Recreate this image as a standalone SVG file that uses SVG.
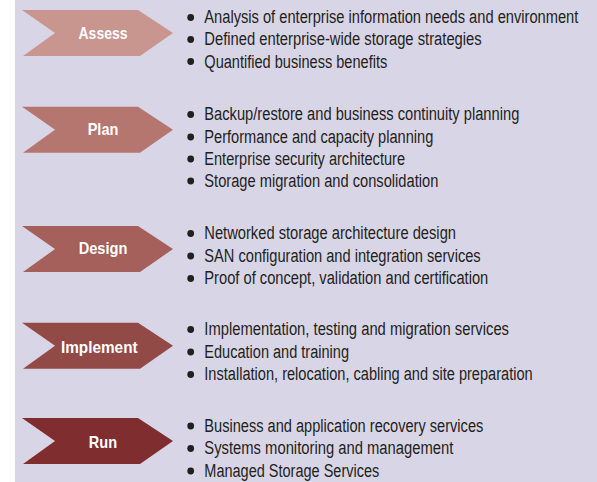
<svg xmlns="http://www.w3.org/2000/svg" width="597" height="482" viewBox="0 0 597 482">
<style>
.bg{fill:#d8d5e7}
.lbl{font-family:"Liberation Sans",Arial,sans-serif;font-weight:bold;font-size:17px;fill:#ffffff;text-anchor:middle}
.it{font-family:"Liberation Sans",Arial,sans-serif;font-size:18px;fill:#231f20}
.dot{fill:#231f20}
</style>
<defs>
<polygon id="chev" points="22,0 138,0 173,23 140,46 23,46 55,23"/>
</defs>
<rect class="bg" x="15" y="0" width="582" height="482"/>
<g id="assess">
<use href="#chev" y="10" fill="#c9968f"/>
<text class="lbl" x="103" y="39" textLength="49" lengthAdjust="spacingAndGlyphs">Assess</text>
<circle class="dot" cx="190.7" cy="17.5" r="3.4"/>
<circle class="dot" cx="190.7" cy="39.5" r="3.4"/>
<circle class="dot" cx="190.7" cy="61.5" r="3.4"/>
<text class="it" x="204.3" y="23.3" textLength="374" lengthAdjust="spacingAndGlyphs">Analysis of enterprise information needs and environment</text>
<text class="it" x="204.3" y="45.3" textLength="277.4" lengthAdjust="spacingAndGlyphs">Defined enterprise-wide storage strategies</text>
<text class="it" x="204.3" y="67.5" textLength="183" lengthAdjust="spacingAndGlyphs">Quantified business benefits</text>
</g>
<g id="plan">
<use href="#chev" y="106.7" fill="#b67670"/>
<text class="lbl" x="103" y="135" textLength="30.6" lengthAdjust="spacingAndGlyphs">Plan</text>
<circle class="dot" cx="190.7" cy="114.5" r="3.4"/>
<circle class="dot" cx="190.7" cy="137" r="3.4"/>
<circle class="dot" cx="190.7" cy="159" r="3.4"/>
<circle class="dot" cx="190.7" cy="181" r="3.4"/>
<text class="it" x="204.3" y="120.3" textLength="315" lengthAdjust="spacingAndGlyphs">Backup/restore and business continuity planning</text>
<text class="it" x="204.3" y="142.8" textLength="229" lengthAdjust="spacingAndGlyphs">Performance and capacity planning</text>
<text class="it" x="204.3" y="164.5" textLength="200.7" lengthAdjust="spacingAndGlyphs">Enterprise security architecture</text>
<text class="it" x="204.3" y="186.5" textLength="234" lengthAdjust="spacingAndGlyphs">Storage migration and consolidation</text>
</g>
<g id="design">
<use href="#chev" y="226" fill="#a5605b"/>
<text class="lbl" x="103" y="254" textLength="48.7" lengthAdjust="spacingAndGlyphs">Design</text>
<circle class="dot" cx="190.7" cy="233.5" r="3.4"/>
<circle class="dot" cx="190.7" cy="256" r="3.4"/>
<circle class="dot" cx="190.7" cy="278.5" r="3.4"/>
<text class="it" x="204.3" y="239.3" textLength="251.7" lengthAdjust="spacingAndGlyphs">Networked storage architecture design</text>
<text class="it" x="204.3" y="261.7" textLength="276.4" lengthAdjust="spacingAndGlyphs">SAN configuration and integration services</text>
<text class="it" x="204.3" y="284" textLength="284" lengthAdjust="spacingAndGlyphs">Proof of concept, validation and certification</text>
</g>
<g id="implement">
<use href="#chev" y="322.7" fill="#924a46"/>
<text class="lbl" x="99.3" y="352.7" textLength="76.7" lengthAdjust="spacingAndGlyphs">Implement</text>
<circle class="dot" cx="190.7" cy="329.5" r="3.4"/>
<circle class="dot" cx="190.7" cy="352" r="3.4"/>
<circle class="dot" cx="190.7" cy="374.5" r="3.4"/>
<text class="it" x="204.3" y="335" textLength="304.7" lengthAdjust="spacingAndGlyphs">Implementation, testing and migration services</text>
<text class="it" x="204.3" y="357.7" textLength="144.7" lengthAdjust="spacingAndGlyphs">Education and training</text>
<text class="it" x="204.3" y="380" textLength="328.4" lengthAdjust="spacingAndGlyphs">Installation, relocation, cabling and site preparation</text>
</g>
<g id="run">
<use href="#chev" y="418" fill="#7f2d2f"/>
<text class="lbl" x="103" y="447.7" textLength="28.3" lengthAdjust="spacingAndGlyphs">Run</text>
<circle class="dot" cx="190.7" cy="426" r="3.4"/>
<circle class="dot" cx="190.7" cy="448.5" r="3.4"/>
<circle class="dot" cx="190.7" cy="471" r="3.4"/>
<text class="it" x="204.3" y="431.7" textLength="279" lengthAdjust="spacingAndGlyphs">Business and application recovery services</text>
<text class="it" x="204.3" y="454.3" textLength="249" lengthAdjust="spacingAndGlyphs">Systems monitoring and management</text>
<text class="it" x="204.3" y="476.7" textLength="175" lengthAdjust="spacingAndGlyphs">Managed Storage Services</text>
</g>
<g id="connectors"/>
</svg>
